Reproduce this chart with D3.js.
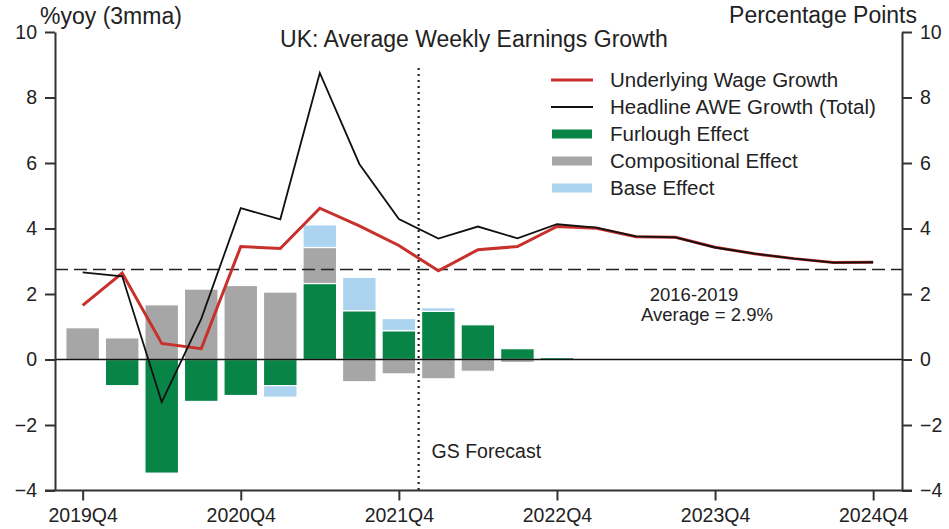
<!DOCTYPE html>
<html>
<head>
<meta charset="utf-8">
<title>UK: Average Weekly Earnings Growth</title>
<script src="https://d3js.org/d3.v7.min.js"></script>
<style>
  body { margin: 0; background: #fff; }
  text { font-family: "Liberation Sans", Arial, sans-serif; fill: #222; }
</style>
</head>
<body>
<div id="chart"></div>
<script>
// Data
const quarters = ["2019Q4", "2020Q1", "2020Q2", "2020Q3", "2020Q4", "2021Q1", "2021Q2", "2021Q3", "2021Q4",
  "2022Q1", "2022Q2", "2022Q3", "2022Q4", "2023Q1", "2023Q2", "2023Q3", "2023Q4", "2024Q1", "2024Q2", "2024Q3", "2024Q4"];
const underlying = [1.65, 2.64, 0.49, 0.33, 3.45, 3.39, 4.62, 4.08, 3.48, 2.71, 3.35, 3.45, 4.06, 4.01, 3.75, 3.73, 3.43, 3.23, 3.08, 2.96, 2.97];
const headline = [2.66, 2.54, -1.30, 1.24, 4.62, 4.28, 8.75, 5.97, 4.29, 3.69, 4.06, 3.70, 4.13, 4.03, 3.76, 3.73, 3.42, 3.23, 3.08, 2.96, 2.97];
const furlough = [0, -0.80, -3.47, -1.28, -1.10, -0.80, 2.32, 1.49, 0.88, 1.47, 1.06, 0.33, 0.06];
const compositional = [0.97, 0.66, 1.67, 2.15, 2.26, 2.06, 1.10, -0.68, -0.44, -0.59, -0.36, -0.09, 0];
const baseEffect = [0, 0, 0, 0, 0, -0.35, 0.69, 1.02, 0.37, 0.11, 0, 0, 0];
const average = 2.75;
const forecastStart = 8.5;
const tickQuarters = ["2019Q4", "2020Q4", "2021Q4", "2022Q4", "2023Q4", "2024Q4"];
const yTicks = [-4, -2, 0, 2, 4, 6, 8, 10];

const width = 949;
const height = 529;
const axisColor = "#333";
const colors = { furlough: "#078446", compositional: "#a6a6a6", base: "#acd3f0", underlying: "#c8302b", headline: "#111" };

const svg = d3.select("#chart").append("svg")
  .attr("width", width)
  .attr("height", height);

// Scales
const x = d3.scaleLinear().domain([-0.7, 20.73]).range([55, 902]);
const y = d3.scaleLinear().domain([-4, 10]).range([490.5, 32]);
const barHalf = 0.425;

// Stacked bars
const barRows = furlough.map((f, i) => ({ i, furlough: f, compositional: compositional[i], base: baseEffect[i] }));
const keys = ["furlough", "compositional", "base"];
const stacked = d3.stack().keys(keys).offset(d3.stackOffsetDiverging)(barRows);

svg.append("g").selectAll("g")
  .data(stacked)
  .join("g")
  .attr("fill", d => colors[d.key])
  .selectAll("rect")
  .data(d => d.filter(s => s[1] !== s[0]))
  .join("rect")
  .attr("x", d => x(d.data.i - barHalf))
  .attr("width", d => x(d.data.i + barHalf) - x(d.data.i - barHalf))
  .attr("y", d => y(Math.max(d[0], d[1])))
  .attr("height", d => Math.abs(y(d[0]) - y(d[1])))
  .attr("stroke", "#fff")
  .attr("stroke-width", 1.2);

// Zero line
svg.append("line")
  .attr("x1", x.range()[0]).attr("x2", x.range()[1])
  .attr("y1", y(0)).attr("y2", y(0))
  .attr("stroke", "#111").attr("stroke-width", 1.3);

// Average line
svg.append("line")
  .attr("x1", x.range()[0]).attr("x2", x.range()[1])
  .attr("y1", y(average)).attr("y2", y(average))
  .attr("stroke", "#222").attr("stroke-width", 1.6)
  .attr("stroke-dasharray", "13,6");

// Forecast divider
svg.append("line")
  .attr("x1", x(forecastStart)).attr("x2", x(forecastStart))
  .attr("y1", 68).attr("y2", y(-4))
  .attr("stroke", "#222").attr("stroke-width", 2.2)
  .attr("stroke-dasharray", "2,4");

// Lines
const line = d3.line().x((d, i) => x(i)).y(d => y(d));

svg.append("path")
  .attr("d", line(underlying))
  .attr("fill", "none")
  .attr("stroke", colors.underlying)
  .attr("stroke-width", 3);

svg.append("path")
  .attr("d", line(headline))
  .attr("fill", "none")
  .attr("stroke", colors.headline)
  .attr("stroke-width", 1.8);

// Axes
const leftAxis = svg.append("g")
  .attr("transform", `translate(${x.range()[0]},0)`)
  .call(d3.axisLeft(y).tickValues(yTicks).tickSize(10).tickSizeOuter(0).tickPadding(8).tickFormat(d3.format("d")));

const rightAxis = svg.append("g")
  .attr("transform", `translate(${x.range()[1]},0)`)
  .call(d3.axisRight(y).tickValues(yTicks).tickSize(10).tickSizeOuter(0).tickPadding(8).tickFormat(d3.format("d")));

const bottomAxis = svg.append("g")
  .attr("transform", `translate(0,${y(-4)})`)
  .call(d3.axisBottom(x)
    .tickValues(tickQuarters.map(q => quarters.indexOf(q)))
    .tickSize(10).tickPadding(8)
    .tickFormat(i => quarters[i]));
bottomAxis.select(".domain").remove();
bottomAxis.append("line")
  .attr("x1", x.range()[0] - 10).attr("x2", x.range()[1] + 10)
  .attr("stroke", axisColor).attr("stroke-width", 2);

[leftAxis, rightAxis, bottomAxis].forEach(g => {
  g.selectAll(".domain").attr("stroke", axisColor).attr("stroke-width", 2);
  g.selectAll(".tick line").attr("stroke", axisColor).attr("stroke-width", 2);
  g.selectAll(".tick text").attr("font-size", 19.5).attr("fill", "#222")
    .attr("font-family", "Liberation Sans, Arial, sans-serif");
});

// Titles
svg.append("text")
  .attr("x", 474).attr("y", 47)
  .attr("text-anchor", "middle")
  .attr("font-size", 23)
  .text("UK: Average Weekly Earnings Growth");

svg.append("text")
  .attr("x", 40).attr("y", 24)
  .attr("font-size", 23)
  .text("%yoy (3mma)");

svg.append("text")
  .attr("x", 917).attr("y", 23)
  .attr("text-anchor", "end")
  .attr("font-size", 23)
  .text("Percentage Points");

// Annotations
svg.append("text")
  .attr("x", 694).attr("y", 301)
  .attr("text-anchor", "middle")
  .attr("font-size", 18.5)
  .text("2016-2019");

svg.append("text")
  .attr("x", 707).attr("y", 321)
  .attr("text-anchor", "middle")
  .attr("font-size", 18.5)
  .text("Average = 2.9%");

svg.append("text")
  .attr("x", x(forecastStart) + 13).attr("y", 458)
  .attr("font-size", 19.5)
  .text("GS Forecast");

// Legend
const legendItems = [
  { label: "Underlying Wage Growth", type: "line", color: colors.underlying, w: 3 },
  { label: "Headline AWE Growth (Total)", type: "line", color: colors.headline, w: 1.8 },
  { label: "Furlough Effect", type: "rect", color: colors.furlough },
  { label: "Compositional Effect", type: "rect", color: colors.compositional },
  { label: "Base Effect", type: "rect", color: colors.base }
];

const legend = svg.append("g").attr("transform", "translate(551,80)");
legendItems.forEach((d, i) => {
  const g = legend.append("g").attr("transform", `translate(0,${i * 27})`);
  if (d.type === "line") {
    g.append("line").attr("x1", 0).attr("x2", 42).attr("y1", 0).attr("y2", 0)
      .attr("stroke", d.color).attr("stroke-width", d.w);
  } else {
    g.append("rect").attr("x", 1).attr("y", -4.5).attr("width", 40).attr("height", 9)
      .attr("fill", d.color);
  }
  g.append("text").attr("x", 59).attr("y", 7.3)
    .attr("font-size", 20.5)
    .text(d.label);
});
</script>
</body>
</html>
